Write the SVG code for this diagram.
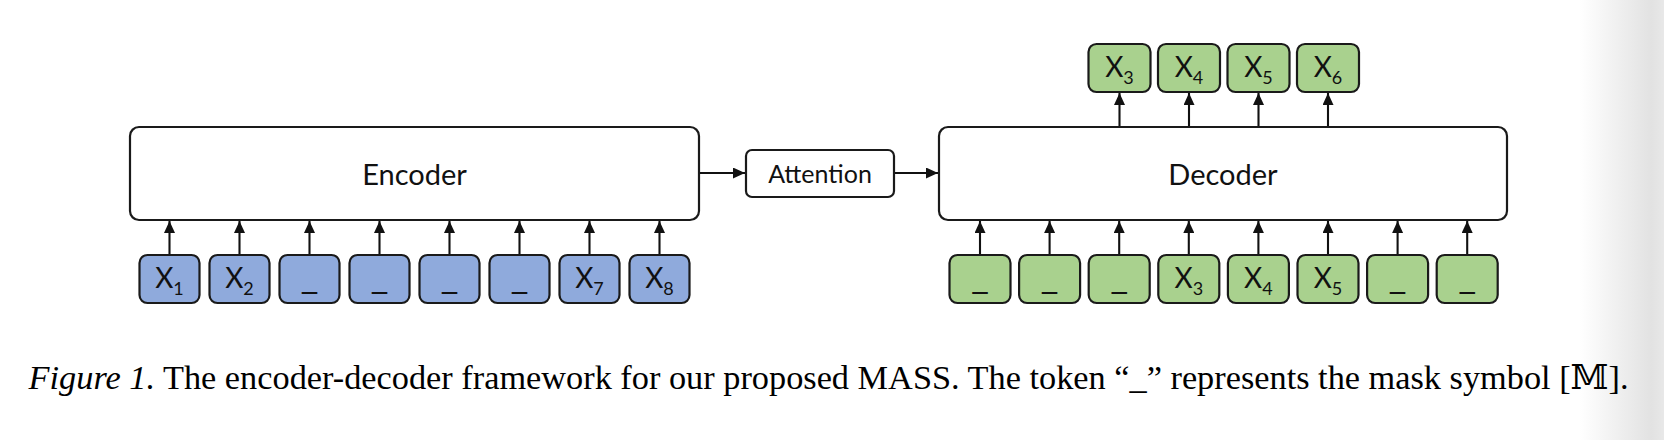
<svg xmlns="http://www.w3.org/2000/svg" width="1664" height="440" viewBox="0 0 1664 440">
<defs>
  <linearGradient id="edge" x1="0" x2="1" y1="0" y2="0">
    <stop offset="0" stop-color="#ffffff"/>
    <stop offset="0.85" stop-color="#e2e2e2"/>
    <stop offset="1" stop-color="#e8e8e8"/>
  </linearGradient>
  <marker id="ah" viewBox="0 0 12 11" refX="12" refY="5.5" markerWidth="12" markerHeight="11" markerUnits="userSpaceOnUse" orient="auto">
    <path d="M0,0 L12,5.5 L0,11 z" fill="#111"/>
  </marker>
</defs>
<style>
  .box{fill:#ffffff;stroke:#1a1a1a;stroke-width:2.2}
  .enc{fill:#8faadc;stroke:#1a1a1a;stroke-width:2.2}
  .dec{fill:#a9d18e;stroke:#1a1a1a;stroke-width:2.2}
  .lbl{font-family:Lato,"Open Sans","DejaVu Sans",sans-serif;fill:#111;text-anchor:middle}
  .big{font-size:29px}
  .tok{font-size:28px}
  .sub{font-size:18px}
  .msk{font-family:"DejaVu Sans",sans-serif;font-size:30px}
  .conn line{stroke:#111;stroke-width:2.1;marker-end:url(#ah)}
  .cap{font-family:"Liberation Serif","Times New Roman","DejaVu Serif",serif;font-size:34px;fill:#000}
</style>
<rect x="0" y="0" width="1664" height="440" fill="#ffffff"/>
<rect x="1580" y="0" width="84" height="440" fill="url(#edge)"/>

<g id="connectors" class="conn">
  <line x1="169.5" y1="254" x2="169.5" y2="221"/>
  <line x1="239.5" y1="254" x2="239.5" y2="221"/>
  <line x1="309.5" y1="254" x2="309.5" y2="221"/>
  <line x1="379.5" y1="254" x2="379.5" y2="221"/>
  <line x1="449.5" y1="254" x2="449.5" y2="221"/>
  <line x1="519.5" y1="254" x2="519.5" y2="221"/>
  <line x1="589.5" y1="254" x2="589.5" y2="221"/>
  <line x1="659.5" y1="254" x2="659.5" y2="221"/>
  <line x1="700" y1="173" x2="745" y2="173"/>
  <line x1="895" y1="173" x2="938" y2="173"/>
  <line x1="980" y1="254" x2="980" y2="221"/>
  <line x1="1049.6" y1="254" x2="1049.6" y2="221"/>
  <line x1="1119.2" y1="254" x2="1119.2" y2="221"/>
  <line x1="1188.8" y1="254" x2="1188.8" y2="221"/>
  <line x1="1258.4" y1="254" x2="1258.4" y2="221"/>
  <line x1="1328" y1="254" x2="1328" y2="221"/>
  <line x1="1397.6" y1="254" x2="1397.6" y2="221"/>
  <line x1="1467.2" y1="254" x2="1467.2" y2="221"/>
  <line x1="1119.5" y1="126" x2="1119.5" y2="93"/>
  <line x1="1189" y1="126" x2="1189" y2="93"/>
  <line x1="1258.5" y1="126" x2="1258.5" y2="93"/>
  <line x1="1328" y1="126" x2="1328" y2="93"/>
</g>

<g id="encoder">
  <rect class="box" x="130" y="127" width="569" height="93" rx="9"/>
  <text class="lbl big" x="414.5" y="185">Encoder</text>
</g>
<g id="attention">
  <rect class="box" x="746" y="150" width="148" height="47" rx="6"/>
  <text class="lbl" x="820" y="183" font-size="25">Attention</text>
</g>
<g id="decoder">
  <rect class="box" x="939" y="127" width="568" height="93" rx="9"/>
  <text class="lbl big" x="1223" y="185">Decoder</text>
</g>

<g id="enc-tok-1"><rect class="enc" x="139.5" y="255" width="60" height="48" rx="8"/><text class="lbl tok" x="169.5" y="288">X<tspan class="sub" dy="7">1</tspan></text></g>
<g id="enc-tok-2"><rect class="enc" x="209.5" y="255" width="60" height="48" rx="8"/><text class="lbl tok" x="239.5" y="288">X<tspan class="sub" dy="7">2</tspan></text></g>
<g id="enc-tok-3"><rect class="enc" x="279.5" y="255" width="60" height="48" rx="8"/><text class="lbl msk" x="309.5" y="287">_</text></g>
<g id="enc-tok-4"><rect class="enc" x="349.5" y="255" width="60" height="48" rx="8"/><text class="lbl msk" x="379.5" y="287">_</text></g>
<g id="enc-tok-5"><rect class="enc" x="419.5" y="255" width="60" height="48" rx="8"/><text class="lbl msk" x="449.5" y="287">_</text></g>
<g id="enc-tok-6"><rect class="enc" x="489.5" y="255" width="60" height="48" rx="8"/><text class="lbl msk" x="519.5" y="287">_</text></g>
<g id="enc-tok-7"><rect class="enc" x="559.5" y="255" width="60" height="48" rx="8"/><text class="lbl tok" x="589.5" y="288">X<tspan class="sub" dy="7">7</tspan></text></g>
<g id="enc-tok-8"><rect class="enc" x="629.5" y="255" width="60" height="48" rx="8"/><text class="lbl tok" x="659.5" y="288">X<tspan class="sub" dy="7">8</tspan></text></g>

<g id="dec-in-1"><rect class="dec" x="949.5" y="255" width="61" height="48" rx="8"/><text class="lbl msk" x="980" y="287">_</text></g>
<g id="dec-in-2"><rect class="dec" x="1019.1" y="255" width="61" height="48" rx="8"/><text class="lbl msk" x="1049.6" y="287">_</text></g>
<g id="dec-in-3"><rect class="dec" x="1088.7" y="255" width="61" height="48" rx="8"/><text class="lbl msk" x="1119.2" y="287">_</text></g>
<g id="dec-in-4"><rect class="dec" x="1158.3" y="255" width="61" height="48" rx="8"/><text class="lbl tok" x="1188.8" y="288">X<tspan class="sub" dy="7">3</tspan></text></g>
<g id="dec-in-5"><rect class="dec" x="1227.9" y="255" width="61" height="48" rx="8"/><text class="lbl tok" x="1258.4" y="288">X<tspan class="sub" dy="7">4</tspan></text></g>
<g id="dec-in-6"><rect class="dec" x="1297.5" y="255" width="61" height="48" rx="8"/><text class="lbl tok" x="1328" y="288">X<tspan class="sub" dy="7">5</tspan></text></g>
<g id="dec-in-7"><rect class="dec" x="1367.1" y="255" width="61" height="48" rx="8"/><text class="lbl msk" x="1397.6" y="287">_</text></g>
<g id="dec-in-8"><rect class="dec" x="1436.7" y="255" width="61" height="48" rx="8"/><text class="lbl msk" x="1467.2" y="287">_</text></g>

<g id="dec-out-1"><rect class="dec" x="1088.5" y="44" width="62" height="48" rx="8"/><text class="lbl tok" x="1119.5" y="77">X<tspan class="sub" dy="7">3</tspan></text></g>
<g id="dec-out-2"><rect class="dec" x="1158" y="44" width="62" height="48" rx="8"/><text class="lbl tok" x="1189" y="77">X<tspan class="sub" dy="7">4</tspan></text></g>
<g id="dec-out-3"><rect class="dec" x="1227.5" y="44" width="62" height="48" rx="8"/><text class="lbl tok" x="1258.5" y="77">X<tspan class="sub" dy="7">5</tspan></text></g>
<g id="dec-out-4"><rect class="dec" x="1297" y="44" width="62" height="48" rx="8"/><text class="lbl tok" x="1328" y="77">X<tspan class="sub" dy="7">6</tspan></text></g>

<text class="cap" x="28.6" y="389" textLength="1600" lengthAdjust="spacingAndGlyphs"><tspan font-style="italic">Figure 1.</tspan> The encoder-decoder framework for our proposed MASS. The token “_” represents the mask symbol [𝕄].</text>
</svg>
